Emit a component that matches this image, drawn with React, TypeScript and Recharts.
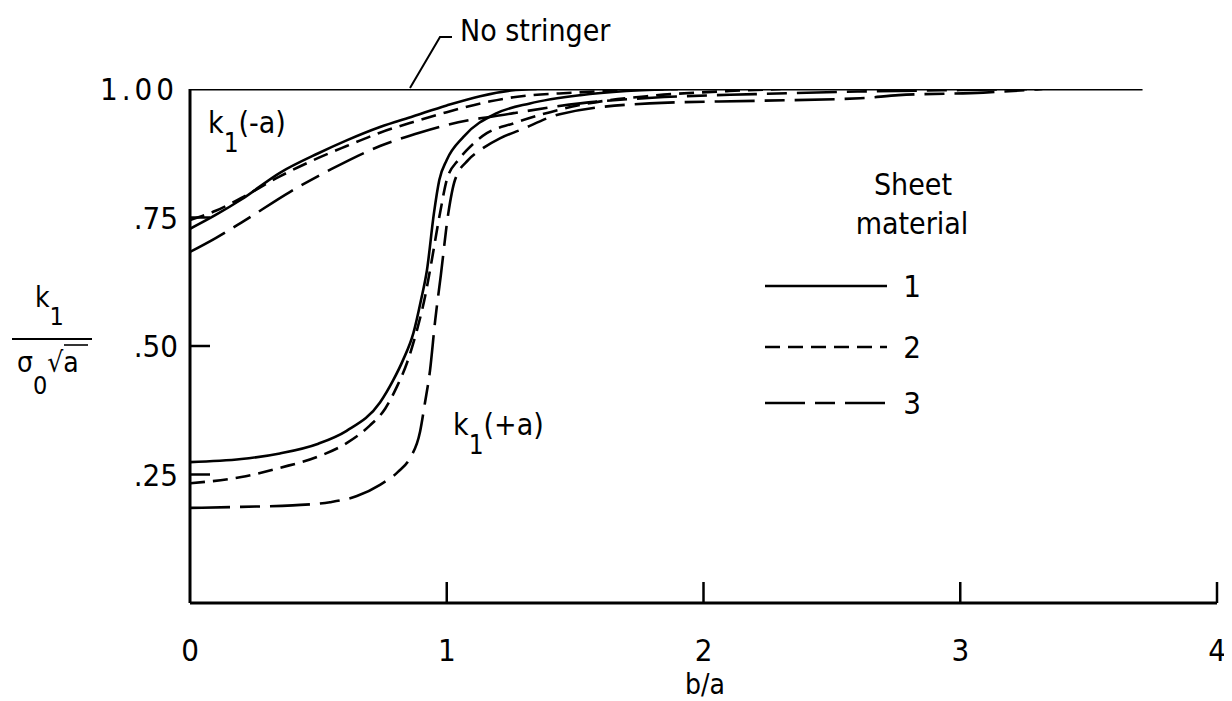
import React from 'react';
import { LineChart, Line, XAxis, YAxis, Legend } from 'recharts';

const FONT = '"DejaVu Sans Condensed", "Liberation Sans Narrow", "Roboto Condensed", "DejaVu Sans", sans-serif';
const NUM_FONT = '"Liberation Sans Narrow", "DejaVu Sans Condensed", "DejaVu Sans", sans-serif';

// axis ticks
const xTicks = [0, 1, 2, 3, 4];
const xTickLabels = ['0', '1', '2', '3', '4'];
const yTicks = [0.25, 0.5, 0.75, 1.0];
const yTickLabels = ['.25', '.50', '.75', '1.00'];

// "No stringer" reference curve  [b/a, k1/(s0*sqrt(a))]
const noStringer: [number, number][] = [[0, 1], [3.71, 1]];

// k1(-a) curves
const minusA_mat1: [number, number][] = [
  [0, 0.728], [0.1, 0.755], [0.2, 0.785], [0.35, 0.837], [0.5, 0.875], [0.61, 0.9],
  [0.74, 0.926], [0.87, 0.947], [1.0, 0.968], [1.13, 0.986], [1.25, 0.997], [1.35, 1.0],
];
const minusA_mat2: [number, number][] = [
  [0, 0.745], [0.1, 0.763], [0.2, 0.788], [0.35, 0.83], [0.5, 0.866], [0.61, 0.889],
  [0.74, 0.915], [0.87, 0.936], [1.0, 0.955], [1.17, 0.976], [1.26, 0.984], [1.5, 0.993],
  [1.7, 0.998], [1.9, 1.0],
];
const minusA_mat3: [number, number][] = [
  [0, 0.683], [0.1, 0.71], [0.2, 0.74], [0.39, 0.8], [0.55, 0.844], [0.74, 0.889],
  [0.9, 0.916], [1.0, 0.93], [1.26, 0.953], [1.52, 0.972], [1.8, 0.983], [2.2, 0.99],
  [2.6, 0.995], [3.0, 0.998], [3.3, 1.0],
];

// k1(+a) curves
const plusA_mat1: [number, number][] = [
  [0, 0.274], [0.2, 0.28], [0.35, 0.291], [0.5, 0.31], [0.61, 0.335], [0.74, 0.39],
  [0.79, 0.432], [0.83, 0.473], [0.87, 0.525], [0.9, 0.59], [0.923, 0.648], [0.95, 0.758],
  [0.971, 0.823], [1.0, 0.862], [1.065, 0.907], [1.195, 0.953], [1.324, 0.972], [1.52, 0.988],
  [1.7, 0.996], [1.9, 1.0],
];
const plusA_mat2: [number, number][] = [
  [0, 0.233], [0.2, 0.245], [0.35, 0.263], [0.5, 0.285], [0.61, 0.311], [0.7, 0.345],
  [0.76, 0.378], [0.805, 0.42], [0.845, 0.467], [0.884, 0.531], [0.915, 0.595], [0.935, 0.648],
  [0.974, 0.759], [1.0, 0.823], [1.045, 0.862], [1.078, 0.881], [1.156, 0.914], [1.259, 0.933],
  [1.52, 0.969], [1.8, 0.987], [2.1, 0.996], [2.3, 1.0],
];
const plusA_mat3: [number, number][] = [
  [0, 0.185], [0.2, 0.187], [0.4, 0.19], [0.545, 0.196], [0.65, 0.208], [0.74, 0.23],
  [0.81, 0.255], [0.857, 0.282], [0.896, 0.333], [0.915, 0.389], [0.935, 0.453], [0.955, 0.55],
  [0.977, 0.638], [1.006, 0.758], [1.032, 0.823], [1.084, 0.862], [1.13, 0.881], [1.207, 0.904],
  [1.285, 0.92], [1.44, 0.951], [1.79, 0.972], [2.2, 0.977], [2.61, 0.982], [2.76, 0.988],
  [3.09, 0.993], [3.32, 1.0],
];

// legend entries
const materials = ['1', '2', '3'];

const DASH: Record<string, string | undefined> = {
  '1': undefined,
  '2': '15 8',
  '3': '40 10 20 10',
};

const toRows = (pts: [number, number][]) => pts.map(([x, y]) => ({ x, y }));

const series = [
  { key: 'none', pts: noStringer, mat: '1' },
  { key: 'm1a', pts: minusA_mat1, mat: '1' },
  { key: 'm2a', pts: minusA_mat2, mat: '2' },
  { key: 'm3a', pts: minusA_mat3, mat: '3' },
  { key: 'p1a', pts: plusA_mat1, mat: '1' },
  { key: 'p2a', pts: plusA_mat2, mat: '2' },
  { key: 'p3a', pts: plusA_mat3, mat: '3' },
];

const XTick = (props: any) => {
  const { x, y, payload } = props;
  const i = xTicks.indexOf(payload.value);
  return (
    <g>
      {payload.value !== 0 && (
        <line x1={x} x2={x} y1={y} y2={y - 21} stroke="#000" strokeWidth={2.5} />
      )}
      <text x={x} y={y + 58} textAnchor="middle" fontFamily={NUM_FONT} fontSize={31} fill="#000">
        {xTickLabels[i]}
      </text>
    </g>
  );
};

const YTick = (props: any) => {
  const { x, y, payload } = props;
  const i = yTicks.indexOf(payload.value);
  return (
    <g>
      {payload.value < 1 && (
        <line x1={x} x2={x + 20} y1={y} y2={y} stroke="#000" strokeWidth={2.5} />
      )}
      <text x={x - 12} y={y + 11} textAnchor="end" fontFamily={NUM_FONT} fontSize={31} fill="#000"
        letterSpacing={payload.value === 1 ? 4 : 0}>
        {yTickLabels[i]}
      </text>
    </g>
  );
};

const LegendBox = () => (
  <svg width={230} height={280} style={{ overflow: 'visible' }}>
    <text x={165} y={37} textAnchor="middle" fontFamily={FONT} fontSize={30} fill="#000">Sheet</text>
    <text x={164} y={76} textAnchor="middle" fontFamily={FONT} fontSize={30} fill="#000">material</text>
    {materials.map((m, i) => {
      const ly = [128, 189, 245][i];
      return (
        <g key={m}>
          <line x1={17} x2={139} y1={ly} y2={ly} stroke="#000" strokeWidth={2.6} strokeDasharray={DASH[m]} />
          <text x={164} y={ly + 11} textAnchor="middle" fontFamily={NUM_FONT} fontSize={31} fill="#000">{m}</text>
        </g>
      );
    })}
  </svg>
);

export default function App() {
  const W = 1224;
  const H = 693;
  return (
    <div style={{ position: 'relative', width: W, height: H, background: '#fff' }}>
      <LineChart width={W} height={H} margin={{ top: 81, right: 15, bottom: 18, left: 82 }}>
        <XAxis
          type="number"
          dataKey="x"
          domain={[0, 4]}
          ticks={xTicks}
          allowDataOverflow
          height={80}
          tickSize={0}
          tickMargin={0}
          axisLine={{ stroke: '#000', strokeWidth: 3 }}
          tickLine={false}
          tick={<XTick />}
          interval={0}
        />
        <YAxis
          type="number"
          dataKey="y"
          domain={[0, 1]}
          ticks={yTicks}
          allowDataOverflow
          width={100}
          tickSize={0}
          tickMargin={0}
          axisLine={{ stroke: '#000', strokeWidth: 3 }}
          tickLine={false}
          tick={<YTick />}
          interval={0}
        />
        {series.map((s) => (
          <Line
            key={s.key}
            data={toRows(s.pts)}
            dataKey="y"
            type="monotone"
            stroke="#000"
            strokeWidth={s.key === 'none' ? 3 : 2.6}
            strokeDasharray={s.key === 'none' ? undefined : DASH[s.mat]}
            dot={false}
            activeDot={false}
            isAnimationActive={false}
          />
        ))}
        <Legend
          layout="horizontal"
          verticalAlign="middle"
          align="center"
          wrapperStyle={{ position: 'absolute', left: 740, top: 150, width: 230, height: 280 }}
          content={() => <LegendBox />}
        />
      </LineChart>
      <svg width={W} height={H} style={{ position: 'absolute', left: 0, top: 0, pointerEvents: 'none' }}>
        {/* No stringer label with leader */}
        <polyline points="402,80 432,29 444,29" fill="none" stroke="#000" strokeWidth={2} />
        <text x={452} y={33} fontFamily={FONT} fontSize={30} fill="#000">No stringer</text>
        {/* k1(-a) */}
        <text x={200} y={125} fontFamily={FONT} fontSize={30} fill="#000">
          k<tspan dy={19} fontSize={26}>1</tspan><tspan dy={-19}>(-a)</tspan>
        </text>
        {/* k1(+a) */}
        <text x={445} y={427} fontFamily={FONT} fontSize={30} fill="#000">
          k<tspan dy={19} fontSize={26}>1</tspan><tspan dy={-19}>(+a)</tspan>
        </text>
        {/* y axis label: k1 / (sigma0 sqrt a) */}
        <text x={27} y={299} fontFamily={FONT} fontSize={28} fill="#000">
          k<tspan dy={18} fontSize={25}>1</tspan>
        </text>
        <line x1={4} x2={84} y1={331} y2={331} stroke="#000" strokeWidth={2} />
        <text x={9} y={364} fontFamily={FONT} fontSize={28} fill="#000">
          σ<tspan dy={22} fontSize={25}>0</tspan><tspan dy={-22}>√a</tspan>
        </text>
        <line x1={56} x2={80} y1={337} y2={337} stroke="#000" strokeWidth={1.6} />
        {/* x axis label */}
        <text x={697} y={686} textAnchor="middle" fontFamily={FONT} fontSize={28} fill="#000">b/a</text>
      </svg>
    </div>
  );
}
